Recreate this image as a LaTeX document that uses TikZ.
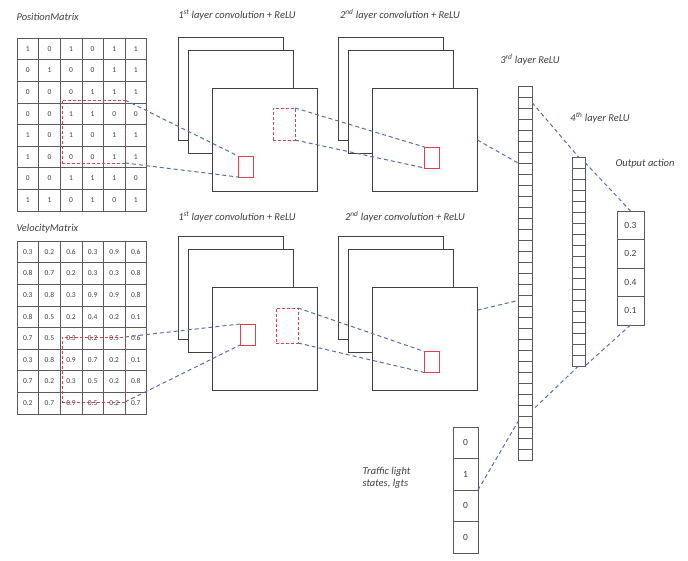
\documentclass[tikz,border=0pt]{standalone}
\usepackage{fontspec}
\setmainfont{Carlito}
\usetikzlibrary{positioning, calc}
\definecolor{ink}{HTML}{404040}
\definecolor{gridgray}{HTML}{5A5A5A}
\definecolor{kred}{HTML}{E0404A}
\definecolor{linkblue}{HTML}{5470B0}

\begin{document}
\begin{tikzpicture}[x=1pt, y=-1pt, every node/.style={font=\fontsize{10.5}{12}\selectfont\itshape, text=ink},
    cell/.style={draw=gridgray, line width=0.6pt, minimum width=21.6pt, minimum height=21.6pt, inner sep=0pt, outer sep=0pt, font=\fontsize{7.5}{9}\selectfont},
    fmap/.style={draw=ink, line width=1.4pt, fill=white, minimum width=105pt, minimum height=103pt, inner sep=0pt, outer sep=0pt},
    kernel/.style={draw=kred, dash pattern=on 3pt off 2pt, line width=0.9pt, inner sep=0pt, outer sep=0pt},
    unit/.style={draw=kred, line width=1pt, minimum width=15pt, minimum height=21pt, inner sep=0pt, outer sep=0pt},
    neuron/.style={draw=gridgray, line width=0.6pt, minimum width=14pt, minimum height=11pt, inner sep=0pt, outer sep=0pt},
    vcell/.style={draw=gridgray, line width=0.7pt, inner sep=0pt, outer sep=0pt, font=\fontsize{9.5}{11}\selectfont},
    linkline/.style={draw=linkblue, dash pattern=on 4pt off 3pt, line width=1pt}]
    \useasboundingbox (0,0) rectangle (688,560);

    \node[anchor=west] (poslbl) at (13,17) {PositionMatrix};
    \node[anchor=west] (vellbl) at (13,229) {VelocityMatrix};
    \foreach \row [count=\r] in {{1,0,1,0,1,1},{0,1,0,0,1,1},{0,0,0,1,1,1},{0,0,1,1,0,0},{1,0,1,0,1,1},{1,0,0,0,1,1},{0,0,1,1,1,0},{1,1,0,1,0,1}}
      \foreach \v [count=\c] in \row
        \node[cell] (pos-\r-\c) at ({17+21.6*(\c-0.5)},{38+21.6*(\r-0.5)}) {\v};
    \foreach \row [count=\r] in {{0.3,0.2,0.6,0.3,0.9,0.6},{0.8,0.7,0.2,0.3,0.3,0.8},{0.3,0.8,0.3,0.9,0.9,0.8},{0.8,0.5,0.2,0.4,0.2,0.1},{0.7,0.5,0.3,0.2,0.5,0.6},{0.3,0.8,0.9,0.7,0.2,0.1},{0.7,0.2,0.3,0.5,0.2,0.8},{0.2,0.7,0.9,0.5,0.2,0.7}}
      \foreach \v [count=\c] in \row
        \node[cell] (vel-\r-\c) at ({17+21.6*(\c-0.5)},{241+21.6*(\r-0.5)}) {\v};
    \node[kernel, minimum width=63pt, minimum height=63pt] (poskern) at (93.5,131.5) {};
    \node[kernel, minimum width=63pt, minimum height=65pt] (velkern) at (93.5,369.5) {};

    \node (c1tlbl) at (237,15) {1\textsuperscript{st} layer convolution + ReLU};
    \node (c2tlbl) at (400,15) {2\textsuperscript{nd} layer convolution + ReLU};
    \node (c1blbl) at (237,217) {1\textsuperscript{st} layer convolution + ReLU};
    \node (c2blbl) at (405,217) {2\textsuperscript{nd} layer convolution + ReLU};
    \foreach \n/\x/\y in {c1t/241/102, c2t/401/102, c1b/241/301, c2b/401/301} {
      \node[fmap] (\n-1) at ({\x-10},{\y-13}) {};
      \node[fmap] (\n-2) at (\x,\y) {};
      \node[fmap] (\n-3) at ({\x+24},{\y+38}) {};
    }
    \node[unit] (u1t) at (245.5,166.5) {};
    \node[unit] (u2t) at (432,157.5) {};
    \node[unit] (u1b) at (247.5,334.5) {};
    \node[unit] (u2b) at (432,362) {};
    \node[kernel, minimum width=22pt, minimum height=32pt] (k1t) at (284,124) {};
    \node[kernel, minimum width=22pt, minimum height=35pt] (k1b) at (287,325.5) {};

    \node (h3lbl) at (530,60) {3\textsuperscript{rd} layer ReLU};
    \node[neuron] (h3-1) at (525,91.5) {};
    \foreach \i [remember=\i as \p (initially 1)] in {2,...,34}
      \node[neuron, below=0pt of h3-\p] (h3-\i) {};
    \node (h4lbl) at (600,118) {4\textsuperscript{th} layer ReLU};
    \node[neuron, minimum width=13pt] (h4-1) at (578.5,162.5) {};
    \foreach \i [remember=\i as \p (initially 1)] in {2,...,19}
      \node[neuron, minimum width=13pt, below=0pt of h4-\p] (h4-\i) {};
    \node (outlbl) at (645,164) {Output action};
    \node[vcell, minimum width=27pt, minimum height=28.5pt] (out-1) at (630.5,225.25) {0.3};
    \node[vcell, minimum width=27pt, minimum height=28.5pt, below=0pt of out-1] (out-2) {0.2};
    \node[vcell, minimum width=27pt, minimum height=28.5pt, below=0pt of out-2] (out-3) {0.4};
    \node[vcell, minimum width=27pt, minimum height=28.5pt, below=0pt of out-3] (out-4) {0.1};
    \node[anchor=north west, align=left] (tllbl) at (359,464) {Traffic light\\states, lgts};
    \node[vcell, minimum width=25pt, minimum height=31.5pt] (tl-1) at (465.5,442.75) {0};
    \node[vcell, minimum width=25pt, minimum height=31.5pt, below=0pt of tl-1] (tl-2) {1};
    \node[vcell, minimum width=25pt, minimum height=31.5pt, below=0pt of tl-2] (tl-3) {0};
    \node[vcell, minimum width=25pt, minimum height=31.5pt, below=0pt of tl-3] (tl-4) {0};

    \coordinate (c2b-out) at ($(c2b-3.north east)!0.22!(c2b-3.south east)$);
    \draw[linkline] (poskern.north east) -- (u1t.north west);
    \draw[linkline] (poskern.south east) -- (u1t.south west);
    \draw[linkline] (velkern.north east) -- (u1b.north west);
    \draw[linkline] (velkern.south east) -- (u1b.south west);
    \draw[linkline] (k1t.north east) -- (u2t.north west);
    \draw[linkline] (k1t.south east) -- (u2t.south west);
    \draw[linkline] (k1b.north east) -- (u2b.north west);
    \draw[linkline] (k1b.south east) -- (u2b.south west);
    \draw[linkline] (c2t-3.east) -- (h3-7.south west);
    \draw[linkline] (c2b-out) -- (h3-20.west);
    \draw[linkline] (h3-2.east) -- (h4-1.north);
    \draw[linkline] (h4-1.east) -- (out-1.north);
    \draw[linkline] (out-4.south) -- (h4-19.south east);
    \draw[linkline] (h4-19.south) -- (h3-30.east);
    \draw[linkline] (tl-2.south east) -- (h3-31.west);
\end{tikzpicture}
\end{document}
